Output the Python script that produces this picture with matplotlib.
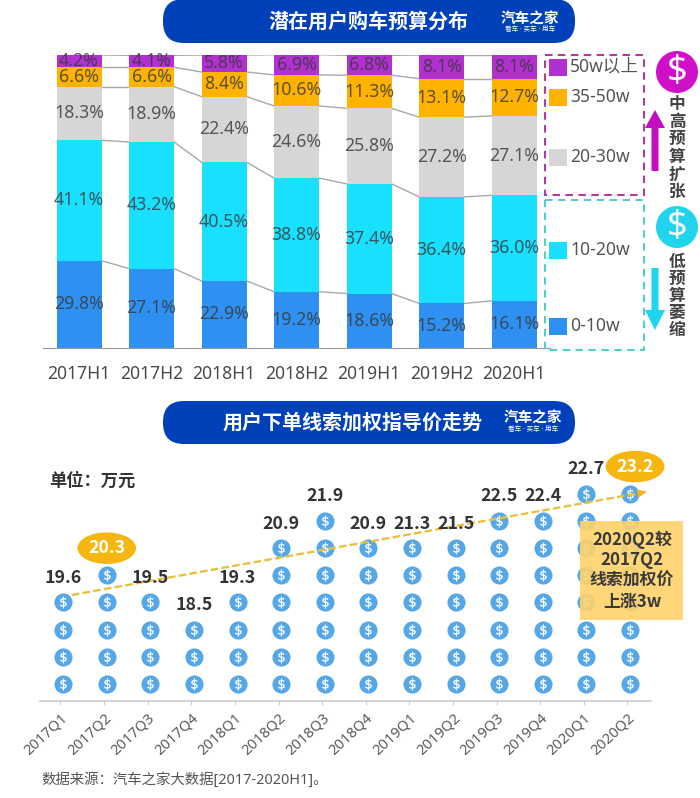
import matplotlib
matplotlib.use('Agg')
import numpy as np
import matplotlib.pyplot as plt
from matplotlib.patches import FancyBboxPatch, Rectangle, Circle, FancyArrow

plt.rcParams['font.family'] = ['Noto Sans', 'Noto Sans CJK SC', 'DejaVu Sans']
BOLD = ['Noto Sans CJK SC', 'DejaVu Sans']

# region data
halves = ['2017H1', '2017H2', '2018H1', '2018H2', '2019H1', '2019H2', '2020H1']
budget_0_10 = [29.8, 27.1, 22.9, 19.2, 18.6, 15.2, 16.1]
budget_10_20 = [41.1, 43.2, 40.5, 38.8, 37.4, 36.4, 36.0]
budget_20_30 = [18.3, 18.9, 22.4, 24.6, 25.8, 27.2, 27.1]
budget_35_50 = [6.6, 6.6, 8.4, 10.6, 11.3, 13.1, 12.7]
budget_50_up = [4.2, 4.1, 5.8, 6.9, 6.8, 8.1, 8.1]
budget_names = ['0-10w', '10-20w', '20-30w', '35-50w', '50w以上']

quarters = ['2017Q1', '2017Q2', '2017Q3', '2017Q4', '2018Q1', '2018Q2', '2018Q3',
            '2018Q4', '2019Q1', '2019Q2', '2019Q3', '2019Q4', '2020Q1', '2020Q2']
prices = [19.6, 20.3, 19.5, 18.5, 19.3, 20.9, 21.9, 20.9, 21.3, 21.5, 22.5, 22.4, 22.7, 23.2]
coin_counts = [4, 5, 4, 3, 4, 6, 7, 6, 6, 6, 7, 7, 8, 8]
highlighted = ['2017Q2', '2020Q2']
trend_x = [0.26, 13.43]
trend_y = [3.27, 7.06]
# endregion

COLORS = ['#2E90F0', '#19E0FF', '#D6D6D6', '#FFB300', '#B030D0']
BANNER = '#0040B8'
W, H = 700, 798

fig = plt.figure(figsize=(W / 100, H / 100), dpi=100, facecolor='white')


def px_axes(left, top, right, bottom):
    return fig.add_axes([left / W, 1 - bottom / H, (right - left) / W, (bottom - top) / H])


# region stacked bars
ax = px_axes(42.75, 55, 550.5, 348)
series = [budget_0_10, budget_10_20, budget_20_30, budget_35_50, budget_50_up]
ind = np.arange(len(halves))
bar_w = 0.62
bottoms = np.zeros(len(halves))
for vals, c in zip(series, COLORS):
    ax.bar(ind, vals, bar_w, bottom=bottoms, color=c, zorder=2)
    for i, v in enumerate(vals):
        ax.text(i, bottoms[i] + v / 2, '%.1f%%' % v, ha='center', va='center',
                fontsize=12.8, color='#3A3A3A', alpha=0.82, zorder=4)
    tops = bottoms + np.array(vals)
    for i in range(len(halves) - 1):
        ax.plot([i + bar_w / 2, i + 1 - bar_w / 2], [tops[i], tops[i + 1]],
                color='#A8A8A8', lw=1, zorder=1)
    bottoms = tops
ax.set_xlim(-0.5, 6.5)
ax.set_ylim(0, 100)
ax.set_xticks(ind)
ax.set_xticklabels(halves, fontsize=12.6, color='#4A4A4A')
ax.tick_params(axis='x', length=0, pad=12)
ax.set_yticks([])
for s in ['top', 'left', 'right']:
    ax.spines[s].set_visible(False)
ax.spines['bottom'].set_color('#999999')
ax.patch.set_alpha(0)
# endregion

# region coins
ax2 = px_axes(40, 450, 651, 700.5)
for i, n in enumerate(coin_counts):
    rows = np.arange(n)
    cx = i + 0.06
    ax2.scatter([cx] * n, rows, s=170, color='#55A7E8', linewidths=0, zorder=2)
    ax2.scatter([cx] * n, rows, s=70, marker=r'$\$$', color='white', linewidths=0.3, zorder=3)
    if quarters[i] in highlighted:
        dx = 3.6 if i == 13 else 0
        ax2.annotate(str(prices[i]), (cx, n - 1), xytext=(dx, 19.4), textcoords='offset points',
                     ha='center', va='center', fontsize=12.8, family=BOLD, fontweight='bold', color='white',
                     bbox=dict(boxstyle='ellipse,pad=0.12', fc='#F5B70F', ec='none'), zorder=6)
    else:
        ax2.annotate(str(prices[i]), (cx, n - 1), xytext=(0, 17.5), textcoords='offset points',
                     ha='center', va='center', fontsize=12.8, family=BOLD, fontweight='bold',
                     color='#333333', zorder=6)
ax2.plot(trend_x, trend_y, color='#E8C040', lw=1.7, ls=(0, (3.2, 1.4)), zorder=4)
ax2.annotate('', (trend_x[1], trend_y[1]), xytext=(trend_x[1] - 0.5, trend_y[1] - 0.15),
             arrowprops=dict(arrowstyle='-|>', color='#F5B21A', lw=0, mutation_scale=16,
                             shrinkA=0, shrinkB=0), zorder=5)
ax2.set_xlim(-0.47, 13.54)
ax2.set_ylim(-0.61, 8.6)
ax2.set_xticks(np.arange(len(quarters)))
ax2.set_xticklabels(quarters, rotation=43, ha='right', rotation_mode='anchor',
                    fontsize=10.6, color='#5A5A5A')
ax2.tick_params(axis='x', length=3, color='#CCCCCC', pad=4)
for lab in ax2.get_xticklabels():
    lab.set_x(lab.get_position()[0])
ax2.set_yticks([])
for s in ['top', 'left', 'right']:
    ax2.spines[s].set_visible(False)
ax2.spines['bottom'].set_color('#CCCCCC')
ax2.spines['bottom'].set_linewidth(1.2)
ax2.patch.set_alpha(0)
# endregion

# region decoration in pixel coordinates
deco = fig.add_axes([0, 0, 1, 1], zorder=5)
deco.set_xlim(0, W)
deco.set_ylim(H, 0)
deco.axis('off')
deco.patch.set_alpha(0)

for top, bot, title, tx in [(-1, 43, '潜在用户购车预算分布', 368), (401, 444, '用户下单线索加权指导价走势', 353)]:
    deco.add_patch(FancyBboxPatch((163, top), 412, bot - top,
                                  boxstyle='round,pad=0,rounding_size=21', fc=BANNER, ec='none'))
    deco.text(tx, (top + bot) / 2, title, color='white', fontsize=14.4, family=BOLD, fontweight='bold',
              ha='center', va='center')
for lx, ly, sy in [(530, 19, 30), (533, 418, 429)]:
    deco.text(lx, ly, '汽车之家', color='white', fontsize=10.5, family=BOLD, fontweight='bold',
              ha='center', va='center')
    deco.text(lx, sy, '看车 · 买车 · 用车', color='white', fontsize=4.8,
              ha='center', va='center')

legend_y = [326, 250, 157, 97, 67]
for name, c, y in zip(budget_names, COLORS, legend_y):
    deco.add_patch(Rectangle((549, y - 8.5), 17.5, 17, fc=c, ec='none'))
    deco.text(570, y, name, fontsize=12.6, color='#555555', va='center', ha='left')

deco.add_patch(Rectangle((545, 55), 98.5, 140, fc='none', ec='#B03AA0', lw=1.5, ls=(0, (3.6, 2.6))))
deco.add_patch(Rectangle((545, 200), 98.5, 150, fc='none', ec='#4FD0D0', lw=1.5, ls=(0, (3.6, 2.6))))

for cy, c in [(72, '#D010C8'), (227, '#22D3EE')]:
    deco.add_patch(Circle((677, cy), 21, fc=c, ec='none'))
    deco.text(677, cy, '$', color='white', fontsize=26, ha='center', va='center')

deco.add_patch(FancyArrow(655, 171, 0, -61, width=7, head_width=20, head_length=18,
                          length_includes_head=True, fc='#C20FC2', ec='none'))
deco.add_patch(FancyArrow(655, 268, 0, 62, width=7, head_width=20, head_length=20,
                          length_includes_head=True, fc='#1FD5EE', ec='none'))
for i, ch in enumerate('中高预算扩张'):
    deco.text(677, 104 + i * 17.6, ch, fontsize=12, family=BOLD, fontweight='bold', color='#444444',
              ha='center', va='center')
for i, ch in enumerate('低预算萎缩'):
    deco.text(677, 262 + i * 17.1, ch, fontsize=12, family=BOLD, fontweight='bold', color='#444444',
              ha='center', va='center')

deco.text(49, 481, '单位：万元', fontsize=12.4, family=BOLD, fontweight='bold', color='#333333', va='center')

deco.add_patch(Rectangle((580, 521), 103, 99, fc='#FFD36B', ec='none', alpha=0.9, zorder=3))
for y, line in zip([540, 560, 581, 602], ['2020Q2较', '2017Q2', '线索加权价', '上涨3w']):
    deco.text(632, y, line, fontsize=12.2, family=BOLD, fontweight='bold', color='#3A3A3A',
              ha='center', va='center', zorder=4)

deco.text(41, 780, '数据来源：汽车之家大数据[2017-2020H1]。', fontsize=10.4, color='#555555', va='center')
# endregion

fig.savefig('out.png', dpi=100)
